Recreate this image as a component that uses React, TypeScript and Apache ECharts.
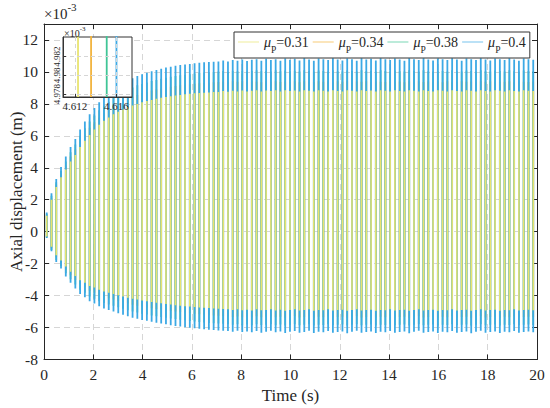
import React, { useEffect, useRef } from 'react';
import * as echarts from 'echarts';

// ---------- data (units ×10^-3 m) ----------
const seriesNames = ['μP=0.31', 'μP=0.34', 'μP=0.38', 'μP=0.4'];
const xTickValues = [0, 2, 4, 6, 8, 10, 12, 14, 16, 18, 20];
const yTickValues = [-8, -6, -4, -2, 0, 2, 4, 6, 8, 10, 12];

// each oscillation cycle drawn as one stroke (first cycle time, spacing in s)
const CYCLE_START = 0.11;
const CYCLE_SPACING = 0.1935;

const yellowHi = [
  1.0, 2.0, 2.8, 3.4, 3.9, 4.4, 4.8, 5.3, 5.7, 6.05, 6.4, 6.7, 6.95, 7.15, 7.35, 7.5, 7.65, 7.8, 7.9, 8.0, 8.1,
  8.18, 8.25, 8.32, 8.38, 8.43, 8.48, 8.52, 8.56, 8.6, 8.63, 8.66, 8.68, 8.7, 8.72, 8.74,
  8.75, 8.8, 8.76, 8.82, 8.78, 8.84, 8.77, 8.82, 8.86, 8.78,
  8.84, 8.8, 8.86, 8.78, 8.85, 8.8, 8.84, 8.78, 8.86, 8.82,
  8.78, 8.85, 8.82, 8.78, 8.86, 8.8, 8.78, 8.85, 8.82, 8.78,
  8.86, 8.8, 8.84, 8.78, 8.86, 8.82, 8.78, 8.85, 8.8, 8.78,
  8.86, 8.82, 8.78, 8.86, 8.8, 8.78, 8.85, 8.82, 8.78, 8.86,
  8.8, 8.78, 8.85, 8.82, 8.78, 8.86, 8.8, 8.78, 8.85, 8.82,
  8.78, 8.86, 8.8, 8.78, 8.85, 8.82, 8.8,
];
const yellowLo = [
  -0.3, -0.95, -1.48, -1.8, -2.18, -2.5, -2.78, -3.04, -3.2, -3.4, -3.5, -3.64,
  -3.74, -3.82, -3.9, -3.98, -4.06, -4.13, -4.2, -4.25, -4.3, -4.35, -4.4, -4.45, -4.48, -4.52, -4.56, -4.6, -4.63,
  -4.66, -4.69, -4.72, -4.74, -4.76, -4.78, -4.8, -4.82, -4.84,
  -4.86, -4.9, -4.85, -4.92, -4.88, -4.94, -4.86, -4.92, -4.9, -4.85,
  -4.93, -4.88, -4.95, -4.9, -4.86, -4.94, -4.9, -4.86, -4.95, -4.9,
  -4.92, -4.86, -4.94, -4.9, -4.88, -4.95, -4.9, -4.86, -4.94, -4.9,
  -4.88, -4.95, -4.9, -4.92, -4.86, -4.94, -4.9, -4.88, -4.95, -4.9,
  -4.86, -4.94, -4.9, -4.88, -4.95, -4.9, -4.92, -4.86, -4.94, -4.9,
  -4.88, -4.95, -4.9, -4.86, -4.94, -4.9, -4.88, -4.95, -4.9, -4.92,
  -4.86, -4.94, -4.9, -4.88, -4.92,
];
const orangeHi = [
  1.05, 2.1, 2.95, 3.6, 4.15, 4.7, 5.15, 5.65, 6.1, 6.5, 6.85, 7.15, 7.42, 7.65, 7.85, 8.02, 8.18, 8.32, 8.45, 8.56, 8.66,
  8.75, 8.83, 8.9, 8.97, 9.03, 9.08, 9.12, 9.16, 9.2, 9.23, 9.26, 9.29, 9.31, 9.33, 9.35,
  9.37, 9.4, 9.36, 9.42, 9.38, 9.41, 9.37, 9.42, 9.39, 9.36,
  9.41, 9.38, 9.42, 9.37, 9.4, 9.38, 9.42, 9.36, 9.41, 9.39,
  9.37, 9.42, 9.38, 9.4, 9.36, 9.41, 9.39, 9.42, 9.37, 9.4,
  9.38, 9.42, 9.36, 9.41, 9.39, 9.37, 9.42, 9.38, 9.4, 9.36,
  9.41, 9.39, 9.42, 9.37, 9.4, 9.38, 9.42, 9.36, 9.41, 9.39,
  9.37, 9.42, 9.38, 9.4, 9.36, 9.41, 9.39, 9.42, 9.37, 9.4,
  9.38, 9.42, 9.36, 9.41, 9.39, 9.37, 9.4,
];
const orangeLo = [
  -0.33, -1.03, -1.6, -1.95, -2.37, -2.72, -3.02, -3.3, -3.48, -3.7, -3.82, -3.97,
  -4.07, -4.16, -4.24, -4.33, -4.42, -4.5, -4.57, -4.63, -4.69, -4.74, -4.79, -4.84, -4.88, -4.92, -4.96, -5.0, -5.04,
  -5.08, -5.11, -5.14, -5.17, -5.2, -5.22, -5.24, -5.26, -5.28,
  -5.3, -5.34, -5.31, -5.36, -5.32, -5.37, -5.3, -5.35, -5.33, -5.31,
  -5.36, -5.32, -5.38, -5.33, -5.3, -5.37, -5.34, -5.31, -5.38, -5.33,
  -5.35, -5.3, -5.37, -5.34, -5.32, -5.38, -5.33, -5.3, -5.37, -5.34,
  -5.32, -5.38, -5.33, -5.35, -5.3, -5.37, -5.34, -5.32, -5.38, -5.33,
  -5.3, -5.37, -5.34, -5.32, -5.38, -5.33, -5.35, -5.3, -5.37, -5.34,
  -5.32, -5.38, -5.33, -5.3, -5.37, -5.34, -5.32, -5.38, -5.33, -5.35,
  -5.3, -5.37, -5.34, -5.32, -5.35,
];
const greenHi = [
  1.12, 2.25, 3.1, 3.8, 4.4, 4.98, 5.45, 6.0, 6.48, 6.9, 7.28, 7.6, 7.9, 8.14, 8.37, 8.56, 8.74, 8.88, 9.02, 9.16, 9.25,
  9.34, 9.43, 9.5, 9.58, 9.64, 9.7, 9.75, 9.79, 9.83, 9.86, 9.9, 9.93, 9.96, 9.98, 10.0,
  10.02, 10.06, 10.01, 10.08, 10.04, 10.09, 10.03, 10.07, 10.1, 10.04,
  10.08, 10.03, 10.1, 10.05, 10.09, 10.04, 10.08, 10.02, 10.1, 10.06,
  10.03, 10.09, 10.06, 10.02, 10.1, 10.05, 10.03, 10.09, 10.06, 10.02,
  10.1, 10.05, 10.08, 10.03, 10.1, 10.06, 10.02, 10.09, 10.05, 10.03,
  10.1, 10.06, 10.02, 10.1, 10.05, 10.03, 10.09, 10.06, 10.02, 10.1,
  10.05, 10.03, 10.09, 10.06, 10.02, 10.1, 10.05, 10.03, 10.09, 10.06,
  10.02, 10.1, 10.05, 10.03, 10.09, 10.06, 10.04,
];
const greenLo = [
  -0.37, -1.14, -1.77, -2.14, -2.6, -2.98, -3.31, -3.63, -3.82, -4.05, -4.19, -4.35,
  -4.46, -4.55, -4.64, -4.73, -4.83, -4.92, -5.0, -5.06, -5.13, -5.18, -5.24, -5.3, -5.34, -5.39, -5.43, -5.47, -5.51,
  -5.55, -5.59, -5.62, -5.65, -5.68, -5.71, -5.73, -5.75, -5.77,
  -5.79, -5.83, -5.8, -5.85, -5.81, -5.86, -5.79, -5.84, -5.82, -5.8,
  -5.85, -5.81, -5.87, -5.82, -5.79, -5.86, -5.83, -5.8, -5.87, -5.82,
  -5.84, -5.79, -5.86, -5.83, -5.81, -5.87, -5.82, -5.79, -5.86, -5.83,
  -5.81, -5.87, -5.82, -5.84, -5.79, -5.86, -5.83, -5.81, -5.87, -5.82,
  -5.79, -5.86, -5.83, -5.81, -5.87, -5.82, -5.84, -5.79, -5.86, -5.83,
  -5.81, -5.87, -5.82, -5.79, -5.86, -5.83, -5.81, -5.87, -5.82, -5.84,
  -5.79, -5.86, -5.83, -5.81, -5.84,
];
const blueHi = [
  1.2, 2.4, 3.3, 4.05, 4.7, 5.3, 5.8, 6.4, 6.9, 7.35, 7.75, 8.1, 8.4, 8.65, 8.9, 9.1, 9.3, 9.45, 9.6, 9.75, 9.85,
  9.95, 10.05, 10.12, 10.2, 10.27, 10.33, 10.38, 10.43, 10.47, 10.5, 10.54, 10.57, 10.6, 10.62, 10.64,
  10.66, 10.72, 10.65, 10.74, 10.7, 10.78, 10.68, 10.76, 10.8, 10.7,
  10.82, 10.74, 10.8, 10.7, 10.84, 10.76, 10.82, 10.72, 10.85, 10.78,
  10.7, 10.84, 10.8, 10.74, 10.86, 10.78, 10.72, 10.84, 10.8, 10.7,
  10.85, 10.78, 10.82, 10.72, 10.86, 10.8, 10.74, 10.84, 10.78, 10.7,
  10.85, 10.8, 10.74, 10.86, 10.78, 10.72, 10.84, 10.8, 10.74, 10.85,
  10.78, 10.7, 10.84, 10.8, 10.74, 10.86, 10.78, 10.72, 10.84, 10.8,
  10.74, 10.85, 10.78, 10.7, 10.84, 10.8, 10.76,
];
const blueLo = [
  -0.4, -1.23, -1.9, -2.3, -2.8, -3.2, -3.56, -3.9, -4.1, -4.35, -4.5, -4.67,
  -4.8, -4.9, -5.0, -5.1, -5.2, -5.3, -5.38, -5.45, -5.52, -5.58, -5.64, -5.7, -5.75, -5.8, -5.85, -5.9, -5.94,
  -5.98, -6.02, -6.05, -6.08, -6.11, -6.14, -6.16, -6.18, -6.2,
  -6.22, -6.26, -6.2, -6.28, -6.24, -6.3, -6.22, -6.32, -6.26, -6.2,
  -6.3, -6.24, -6.34, -6.26, -6.22, -6.32, -6.28, -6.2, -6.34, -6.26,
  -6.3, -6.22, -6.32, -6.28, -6.24, -6.35, -6.26, -6.2, -6.32, -6.28,
  -6.24, -6.34, -6.26, -6.3, -6.22, -6.33, -6.28, -6.24, -6.35, -6.26,
  -6.2, -6.32, -6.28, -6.24, -6.34, -6.26, -6.3, -6.22, -6.33, -6.28,
  -6.24, -6.35, -6.26, -6.2, -6.32, -6.28, -6.24, -6.34, -6.26, -6.3,
  -6.22, -6.33, -6.28, -6.24, -6.3,
];

// inset (zoom near t ≈ 4.614 s): crossing times of each curve, y span of each stroke
const insetCrossTimes = [4.61231, 4.61357, 4.61508, 4.61602];
const insetStrokeY = [4.975, 4.987];
const insetXTicks = [4.612, 4.616];
const insetYTicks = [4.978, 4.98, 4.982];

// ---------- styles ----------
const SERIF = '"Liberation Serif", "Times New Roman", serif';
const COLORS = ['#E9E470', '#F2B43E', '#3FC596', '#3CA9E5'];
const AXIS = '#262626';
const GRIDLINE = '#d6d6d6';

function strokeData(hi: number[], lo: number[]) {
  const out: number[][] = [];
  const n = Math.min(hi.length, lo.length);
  for (let i = 0; i < n; i++) out.push([CYCLE_START + i * CYCLE_SPACING, lo[i], hi[i]]);
  return out;
}

export default function App() {
  const ref = useRef<HTMLDivElement>(null);
  useEffect(() => {
    if (!ref.current) return;
    const chart = echarts.init(ref.current, undefined, { renderer: 'svg' });

    const mainData = [
      strokeData(yellowHi, yellowLo),
      strokeData(orangeHi, orangeLo),
      strokeData(greenHi, greenLo),
      strokeData(blueHi, blueLo),
    ];
    // drawing order: orange, green, blue, then yellow on top
    const drawOrder = [1, 2, 3, 0];
    const widths = [1.6, 1.7, 1.7, 1.8];

    const mainSeries = drawOrder.map((k, j) => ({
      type: 'custom',
      name: seriesNames[k],
      xAxisIndex: 0,
      yAxisIndex: 0,
      data: mainData[k],
      encode: { x: 0, y: [1, 2] },
      clip: true,
      z: 2,
      z2: j,
      itemStyle: { color: COLORS[k] },
      renderItem: (params: any, api: any) => {
        const t = api.value(0);
        const p1 = api.coord([t, api.value(1)]);
        const p2 = api.coord([t, api.value(2)]);
        return {
          type: 'line',
          shape: { x1: p1[0], y1: p1[1], x2: p2[0], y2: p2[1] },
          style: { stroke: COLORS[k], lineWidth: widths[k] },
        };
      },
    }));

    const insetSeries = seriesNames.map((name, k) => ({
      type: 'line',
      name,
      xAxisIndex: 2,
      yAxisIndex: 2,
      data: insetStrokeY.map((y) => [insetCrossTimes[k], y]),
      symbol: 'none',
      lineStyle: { color: COLORS[k], width: 1.8 },
      itemStyle: { color: COLORS[k] },
      clip: true,
      z: 11,
    }));

    const axisLineStyle = { onZero: false, lineStyle: { color: AXIS, width: 1 } };
    const tickStyle = { inside: true, length: 5, lineStyle: { color: AXIS, width: 1 } };
    const dashed = { show: true, lineStyle: { color: GRIDLINE, type: [6, 4], width: 1 } };

    const option: any = {
      animation: false,
      backgroundColor: '#ffffff',
      textStyle: { fontFamily: SERIF },
      grid: [
        { left: 44, right: 13, top: 24, bottom: 48.5, containLabel: false, outerBoundsMode: 'none' },
        { left: 63, top: 37, width: 69, height: 60, z: 12, containLabel: false, outerBoundsMode: 'none' },
      ],
      xAxis: [
        {
          gridIndex: 0, type: 'value', min: xTickValues[0], max: xTickValues[xTickValues.length - 1], interval: 2,
          axisLine: axisLineStyle, axisTick: tickStyle,
          axisLabel: { fontSize: 15.5, color: AXIS, margin: 7, fontFamily: SERIF },
          splitLine: dashed,
          name: 'Time (s)', nameLocation: 'middle', nameGap: 26,
          nameTextStyle: { fontSize: 17, color: AXIS, fontFamily: SERIF },
        },
        {
          gridIndex: 0, type: 'value', position: 'top', min: 0, max: 20, interval: 2,
          axisLine: axisLineStyle, axisTick: tickStyle,
          axisLabel: { show: false }, splitLine: { show: false },
        },
        {
          gridIndex: 1, type: 'value', min: 4.61086, max: 4.61752, z: 12,
          axisLine: { onZero: false, lineStyle: { color: '#333', width: 1 } },
          axisTick: { inside: true, length: 3, customValues: insetXTicks, lineStyle: { color: '#333' } },
          axisLabel: {
            customValues: insetXTicks, fontSize: 11, color: AXIS, margin: 3, fontFamily: SERIF,
            showMinLabel: true, showMaxLabel: true,
            formatter: (v: number) => v.toFixed(3),
          },
          splitLine: { show: true, lineStyle: { color: GRIDLINE, type: [4, 3] } },
        },
      ],
      yAxis: [
        {
          gridIndex: 0, type: 'value', min: yTickValues[0], max: 13, interval: 2,
          axisLine: axisLineStyle, axisTick: tickStyle,
          axisLabel: { fontSize: 15.5, color: AXIS, margin: 6, fontFamily: SERIF, showMaxLabel: false },
          splitLine: dashed,
          name: 'Axial displacement (m)', nameLocation: 'middle', nameGap: 19, nameMoveOverlap: false,
          nameTextStyle: { fontSize: 17, color: AXIS, fontFamily: SERIF },
        },
        {
          gridIndex: 0, type: 'value', position: 'right', min: -8, max: 13, interval: 2,
          axisLine: axisLineStyle, axisTick: tickStyle,
          axisLabel: { show: false }, splitLine: { show: false },
        },
        {
          gridIndex: 1, type: 'value', min: 4.97768, max: 4.98411, z: 12,
          axisLine: { onZero: false, lineStyle: { color: '#333', width: 1 } },
          axisTick: { inside: true, length: 3, customValues: insetYTicks, lineStyle: { color: '#333' } },
          axisLabel: {
            customValues: insetYTicks, fontSize: 9, color: AXIS, margin: 2, rotate: 90, fontFamily: SERIF,
            showMinLabel: true, showMaxLabel: true, hideOverlap: false,
            formatter: (v: number) => String(+v.toFixed(3)),
          },
          splitLine: { show: true, lineStyle: { color: GRIDLINE, type: [4, 3] } },
        },
      ],
      legend: {
        data: seriesNames.map((name, k) => ({
          name,
          icon: 'path://M0,0 L30,0 L30,1 L0,1 Z',
          itemStyle: { color: COLORS[k] },
        })),
        orient: 'horizontal',
        left: 234, top: 32, width: 300,
        padding: [3, 4, 3, 4],
        itemWidth: 21, itemHeight: 1,
        itemGap: 4,
        backgroundColor: '#ffffff',
        borderColor: '#333', borderWidth: 1, borderRadius: 0,
        selectedMode: false,
        formatter: (name: string) => `{mu|μ}{p|P}{v|=${name.split('=')[1]}}`,
        textStyle: {
          fontFamily: SERIF, fontSize: 14, color: AXIS,
          rich: {
            mu: { fontFamily: SERIF, fontSize: 14, fontStyle: 'italic', color: AXIS, lineHeight: 16 },
            p: { fontFamily: SERIF, fontSize: 9.5, color: AXIS, lineHeight: 16, verticalAlign: 'bottom', padding: [0, 0, -5, 0] },
            v: { fontFamily: SERIF, fontSize: 14, color: AXIS, lineHeight: 16 },
          },
        },
      },
      graphic: {
        elements: [
          {
            type: 'rect', z: 10,
            shape: { x: 63, y: 37, width: 69, height: 60 },
            style: { fill: '#ffffff', stroke: '#333', lineWidth: 1 },
          },
          {
            type: 'text', z: 12, x: 44, y: 5,
            style: {
              text: '{a|×10}{b|-3}',
              rich: {
                a: { fontFamily: SERIF, fontSize: 15, fill: AXIS, lineHeight: 17 },
                b: { fontFamily: SERIF, fontSize: 11, fill: AXIS, lineHeight: 17, verticalAlign: 'top', padding: [-4, 0, 0, 0] },
              },
            },
          },
          {
            type: 'text', z: 12, x: 64, y: 28,
            style: {
              text: '{a|×10}{b|-3}',
              rich: {
                a: { fontFamily: SERIF, fontSize: 10, fill: AXIS, lineHeight: 11 },
                b: { fontFamily: SERIF, fontSize: 7, fill: AXIS, lineHeight: 11, verticalAlign: 'top', padding: [-3, 0, 0, 0] },
              },
            },
          },
        ],
      },
      series: [...mainSeries, ...insetSeries],
    };

    chart.setOption(option);
    return () => chart.dispose();
  }, []);

  return (
    <div
      ref={ref}
      style={{ position: 'fixed', left: 0, top: 0, width: 550, height: 408, background: '#fff' }}
    />
  );
}
